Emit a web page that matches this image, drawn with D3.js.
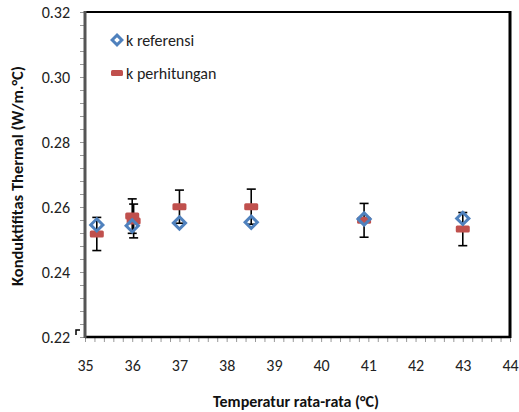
<!DOCTYPE html>
<html>
<head>
<meta charset="utf-8">
<script src="https://cdn.jsdelivr.net/npm/d3@7"></script>
<style>
  body { margin: 0; background: #fff; }
  text { font-family: Carlito, "Liberation Sans Narrow", "Open Sans", sans-serif; }
</style>
</head>
<body>
<svg></svg>
<script>
// values
const temps = [35.25, 36.0, 37.0, 38.52, 40.91, 43.0];
const kReferensi = [0.2545, 0.2542, 0.2551, 0.2553, 0.2563, 0.2565];
const hitTemps = [35.25, 36.0, 36.03, 37.0, 38.52, 40.91, 43.0];
const kPerhitungan = [0.2517, 0.2572, 0.2557, 0.2601, 0.2601, 0.2559, 0.2532];
const kError = [0.0051, 0.0053, 0.0052, 0.0051, 0.0054, 0.0052, 0.0051];
const xTicks = [35, 36, 37, 38, 39, 40, 41, 42, 43, 44];
const yTicks = [0.22, 0.24, 0.26, 0.28, 0.30, 0.32];
const legendNames = ['k referensi', 'k perhitungan'];

const width = 519;
const height = 412;
const margin = {top: 12, right: 9, bottom: 75, left: 85};
const font = 'Carlito, "Liberation Sans Narrow", "Open Sans", sans-serif';

const svg = d3.select('svg')
    .attr('width', width)
    .attr('height', height);

const x = d3.scaleLinear()
            .domain([35, 44])
            .range([margin.left, width - margin.right]);
const y = d3.scaleLinear()
            .domain([0.22, 0.32])
            .range([height - margin.bottom, margin.top]);

const blue = '#4F81BD';
const red = '#C0504D';

// minor ticks
svg.append('g')
    .attr('transform', `translate(0, ${y(0.22)})`)
    .call(d3.axisBottom(x).tickValues(d3.range(35, 44.01, 0.2)).tickSize(5).tickFormat(''))
    .call(g => g.select('.domain').remove())
    .call(g => g.selectAll('line').attr('stroke', '#999'));

svg.append('g')
    .attr('transform', `translate(${x(35)}, 0)`)
    .call(d3.axisLeft(y).tickValues(d3.range(0.22, 0.3201, 0.004)).tickSize(5).tickFormat(''))
    .call(g => g.select('.domain').remove())
    .call(g => g.selectAll('line').attr('stroke', '#999'));

// tick labels
svg.append('g')
    .attr('transform', `translate(0, ${y(0.22)})`)
    .call(d3.axisBottom(x).tickValues(xTicks).tickSize(0).tickPadding(23).tickFormat(d3.format('d')))
    .call(g => g.select('.domain').remove())
    .call(g => g.selectAll('text').attr('font-size', 16).attr('fill', '#222').style('font-family', font));

svg.append('g')
    .attr('transform', `translate(${x(35)}, 0)`)
    .call(d3.axisLeft(y).tickValues(yTicks).tickSize(0).tickPadding(15).tickFormat(d3.format('.2f')))
    .call(g => g.select('.domain').remove())
    .call(g => g.selectAll('text').attr('font-size', 16).attr('fill', '#222').style('font-family', font));

// frame
svg.append('line')
    .attr('x1', x(35)).attr('x2', x(44))
    .attr('y1', y(0.32)).attr('y2', y(0.32))
    .attr('stroke', '#000').attr('stroke-width', 2);
svg.append('line')
    .attr('x1', x(44)).attr('x2', x(44))
    .attr('y1', y(0.32) - 1).attr('y2', y(0.22) + 1)
    .attr('stroke', '#000').attr('stroke-width', 3);
svg.append('line')
    .attr('x1', x(35)).attr('x2', x(44))
    .attr('y1', y(0.22)).attr('y2', y(0.22))
    .attr('stroke', '#000').attr('stroke-width', 2.5);
svg.append('line')
    .attr('x1', x(35)).attr('x2', x(35))
    .attr('y1', y(0.32) - 1).attr('y2', y(0.22) + 1)
    .attr('stroke', '#555').attr('stroke-width', 3);

// stray cap near origin
svg.append('path')
    .attr('d', `M${x(35) - 9},${y(0.22) - 2} V${y(0.22) - 7} H${x(35) - 5}`)
    .attr('fill', 'none').attr('stroke', '#000').attr('stroke-width', 1.5);

// error bars of k perhitungan
const errs = svg.append('g').attr('stroke', '#000').attr('stroke-width', 1.6);
hitTemps.forEach((t, i) => {
  const top = y(kPerhitungan[i] + kError[i]);
  const bot = y(kPerhitungan[i] - kError[i]);
  errs.append('line').attr('x1', x(t)).attr('x2', x(t)).attr('y1', top).attr('y2', bot);
  errs.append('line').attr('x1', x(t) - 4.5).attr('x2', x(t) + 4.5).attr('y1', top).attr('y2', top);
  errs.append('line').attr('x1', x(t) - 4.5).attr('x2', x(t) + 4.5).attr('y1', bot).attr('y2', bot);
});

// k perhitungan markers
svg.append('g')
  .selectAll('rect')
  .data(kPerhitungan)
  .join('rect')
    .attr('x', (d, i) => x(hitTemps[i]) - 7)
    .attr('y', d => y(d) - 3.5)
    .attr('width', 14)
    .attr('height', 7)
    .attr('rx', 1.5)
    .attr('fill', red);

// k referensi markers
const diamond = d3.symbol().type(d3.symbolDiamond2).size(95);
svg.append('g')
  .selectAll('path')
  .data(kReferensi)
  .join('path')
    .attr('transform', (d, i) => `translate(${x(temps[i])}, ${y(d)})`)
    .attr('d', diamond)
    .attr('fill', 'none')
    .attr('stroke', blue)
    .attr('stroke-width', 3);

// legend
const legend = svg.append('g');
legend.append('path')
    .attr('transform', 'translate(117, 40)')
    .attr('d', d3.symbol().type(d3.symbolDiamond2).size(60))
    .attr('fill', 'none').attr('stroke', blue).attr('stroke-width', 3);
legend.append('rect')
    .attr('x', 111).attr('y', 70).attr('width', 12).attr('height', 6).attr('rx', 1.5)
    .attr('fill', red);
legend.selectAll('text')
  .data(legendNames)
  .join('text')
    .attr('x', 126)
    .attr('y', (d, i) => 46 + i * 33)
    .attr('font-size', 16)
    .attr('fill', '#222')
    .text(d => d);

// axis titles
svg.append('text')
    .attr('x', 296)
    .attr('y', 407)
    .attr('text-anchor', 'middle')
    .attr('font-size', 16)
    .attr('font-weight', 'bold')
    .attr('fill', '#111')
    .text('Temperatur rata-rata (°C)');

svg.append('text')
    .attr('transform', 'translate(23, 176) rotate(-90)')
    .attr('text-anchor', 'middle')
    .attr('font-size', 16.5)
    .attr('font-weight', 'bold')
    .attr('fill', '#111')
    .text('Konduktifitas Thermal (W/m.°C)');
</script>
</body>
</html>
